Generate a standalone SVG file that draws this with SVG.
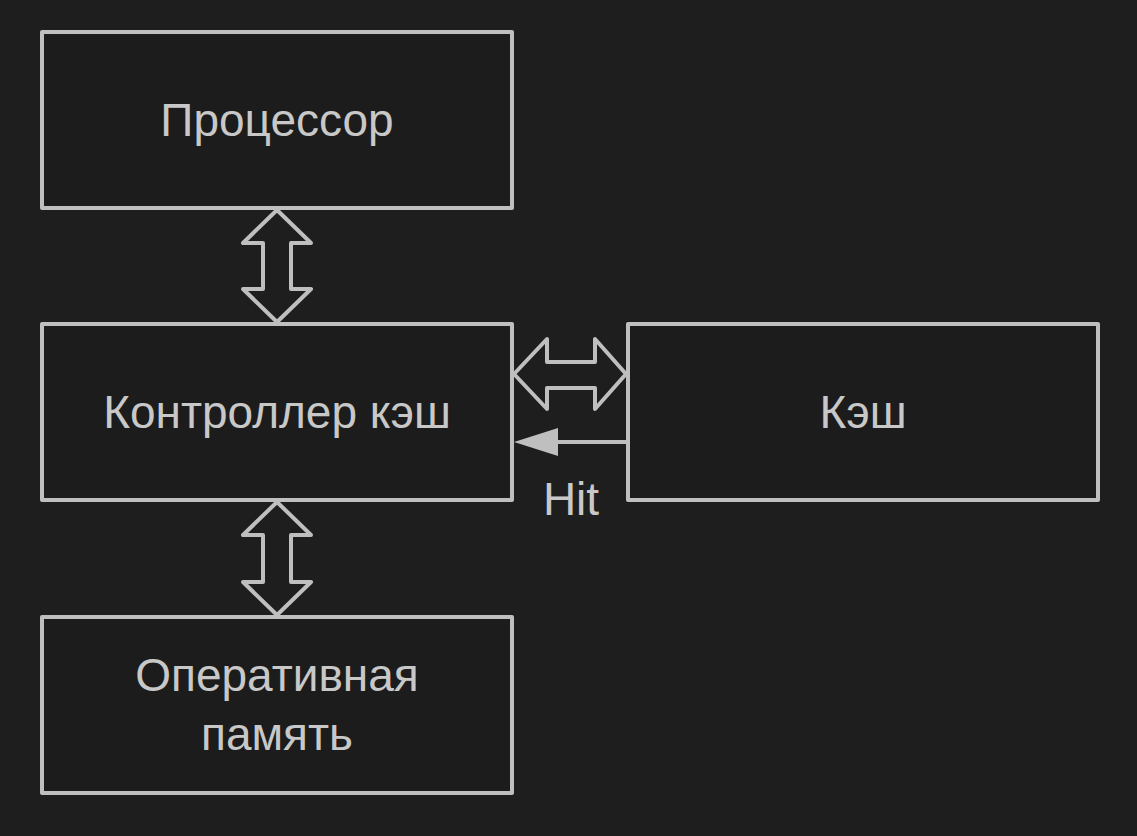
<svg xmlns="http://www.w3.org/2000/svg" width="1137" height="836" viewBox="0 0 1137 836">
<style>
.box{fill:#1c1c1c;stroke:#bfbfbf;stroke-width:4;stroke-linejoin:round}
.ar{fill:none;stroke:#bfbfbf;stroke-width:4;stroke-linejoin:round}
text{font-family:"Liberation Sans",Arial,sans-serif;font-size:46px;fill:#c8c8c8;text-anchor:middle}
</style>
<rect width="1137" height="836" fill="#1e1e1e"/>
<g id="cpu"><rect class="box" x="42" y="32" width="470" height="176"/><text x="277" y="136">Процессор</text></g>
<g id="ctrl"><rect class="box" x="42" y="324" width="470" height="176"/><text x="277" y="428">Контроллер кэш</text></g>
<g id="ram"><rect class="box" x="42" y="617" width="470" height="176"/><text x="277" y="691">Оперативная</text><text x="277" y="750">память</text></g>
<g id="cache"><rect class="box" x="628" y="324" width="470" height="176"/><text x="863" y="428">Кэш</text></g>
<g id="connectors">
<path class="ar" d="M277 210 L243 243 L263 243 L263 289 L243 289 L277 322 L311 289 L291 289 L291 243 L311 243 Z"/>
<path class="ar" d="M277 502 L243 535 L263 535 L263 582 L243 582 L277 615 L311 582 L291 582 L291 535 L311 535 Z"/>
<path class="ar" d="M514 374 L547 339 L547 362 L595 362 L595 339 L626 374 L595 409 L595 388 L547 388 L547 409 Z"/>
<line x1="628" y1="442" x2="556" y2="442" stroke="#bfbfbf" stroke-width="4"/>
<polygon points="514,442 558,428 558,456" fill="#bfbfbf"/>
<text x="571" y="515">Hit</text>
</g>
</svg>
